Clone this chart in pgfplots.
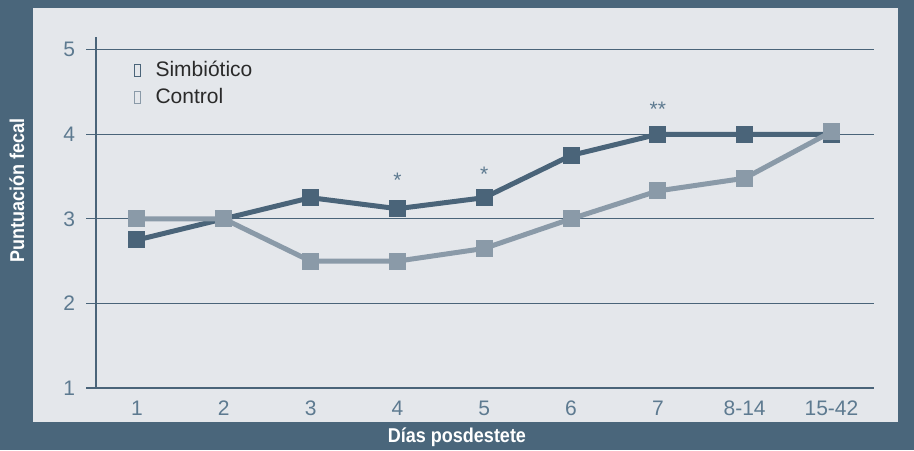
\documentclass[border=0pt]{standalone}
\usepackage{pgfplots}
\pgfplotsset{compat=1.18}
\usepackage{fontspec}
\setmainfont{Liberation Sans}
\definecolor{frame}{HTML}{4A667B}
\definecolor{panel}{HTML}{E4E7EB}
\definecolor{dark}{HTML}{4A6479}
\definecolor{light}{HTML}{8A9AA8}
\definecolor{tick}{HTML}{5D7A90}
\definecolor{txt}{HTML}{2A2A2A}
\begin{document}
\begin{tikzpicture}
\fill[frame] (0,0) rectangle (457pt,225pt);
\useasboundingbox (0,0) rectangle (457pt,225pt);
\fill[panel] (16.5pt,14pt) rectangle (449pt,221pt);
\begin{axis}[
  at={(48pt,31pt)}, anchor=south west,
  scale only axis, width=389pt, height=175.5pt,
  xmin=-0.472, xmax=8.49, ymin=1, ymax=5.15,
  xtick={0,...,8},
  xticklabels={1,2,3,4,5,6,7,8-14,15-42},
  ytick={1,2,3,4,5},
  axis x line*=bottom, axis y line*=left,
  axis line style={dark, line width=1pt, -},
  ymajorgrids, grid style={dark, line width=0.6pt},
  major x tick style={draw=none},
  major y tick style={dark, line width=0.6pt},
  tick align=outside, major tick length=5pt,
  ticklabel style={font=\fontsize{10.5}{12}\selectfont, text=tick},
  xticklabel style={yshift=2pt},
  yticklabel style={xshift=-2pt},
  /pgf/number format/assume math mode=true,
  legend style={at={(0.04,0.955)}, anchor=north west, draw=none, fill=none,
    font=\fontsize{10.5}{12}\selectfont, text=txt, row sep=0.5pt},
  legend cell align=left,
]
\addplot[dark, line width=2.5pt, mark=square*, mark size=4pt, mark options={solid, line width=0pt},
  legend image code/.code={\path[draw=none,fill=none] (0,0) -- (9pt,0); \draw[dark, line width=0.6pt, fill=none] (0.3pt,-3pt) rectangle (3.3pt,3pt);}]
  coordinates {(0,2.75) (1,3.0) (2,3.25) (3,3.12) (4,3.25) (5,3.75) (6,4.0) (7,4.0) (8,4.0)};
\addlegendentry{Simbiótico}
\addplot[light, line width=2.5pt, mark=square*, mark size=4pt, mark options={solid, line width=0pt},
  legend image code/.code={\path[draw=none,fill=none] (0,0) -- (9pt,0); \draw[light, line width=0.6pt, fill=none] (0.3pt,-3pt) rectangle (3.3pt,3pt);}]
  coordinates {(0,3.0) (1,3.0) (2,2.5) (3,2.5) (4,2.65) (5,3.0) (6,3.33) (7,3.48) (8,4.03)};
\addlegendentry{Control}
\addplot[draw=none, mark=none, forget plot, nodes near coords, point meta=explicit symbolic,
  every node near coord/.append style={anchor=center, text=tick, font=\fontsize{10.5}{12}\selectfont}]
  coordinates {(3,3.46)[*] (4,3.53)[*] (6,4.29)[**]};
\end{axis}
\node[white, font=\bfseries\fontsize{10}{12}\selectfont] at (228.5pt,6.5pt) {\scalebox{0.9}[1]{Días posdestete}};
\node[white, font=\bfseries\fontsize{10}{12}\selectfont, rotate=90] at (8.5pt,130pt) {\scalebox{0.9}[1]{Puntuación fecal}};
\end{tikzpicture}
\end{document}
